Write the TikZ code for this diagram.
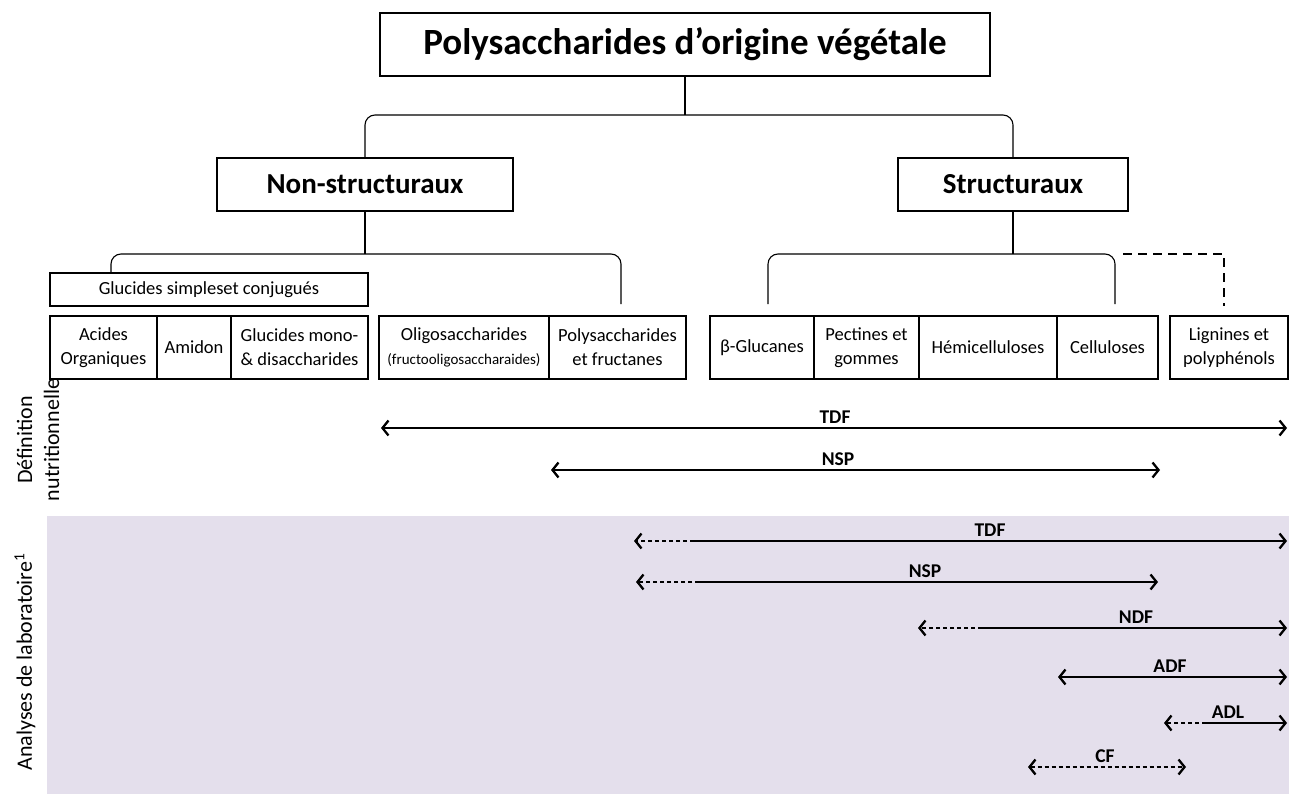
\documentclass[tikz,border=0pt]{standalone}
\usepackage{fontspec}
\setmainfont{Carlito}
\usepackage{xcolor}
\usetikzlibrary{arrows.meta, positioning}
\definecolor{labbg}{HTML}{E4DFEC}

\begin{document}
\begin{tikzpicture}[x=1pt, y=-1pt,
        >={Straight Barb[length=6pt,width=15pt,line width=2.3pt]},
        box/.style={draw, line width=1.3pt, inner sep=0pt, outer sep=0pt, align=center},
        cell/.style={box, minimum height=63pt, font=\fontsize{18.5}{24}\selectfont},
        bracket/.style={line width=1.1pt, rounded corners=10pt},
        dim/.style={line width=1.7pt},
        dimdash/.style={line width=1.4pt, dash pattern=on 4pt off 3pt},
        dimlabel/.style={font=\bfseries\fontsize{19.5}{22}\selectfont, anchor=base},
        sidelabel/.style={rotate=90, align=center, font=\fontsize{22}{27}\selectfont}]

        \useasboundingbox (0,0) rectangle (1289,794);
        \fill[labbg] (47,516) rectangle (1289,794);

        \node[box, minimum width=610pt, minimum height=63pt, font=\bfseries\fontsize{37}{44}\selectfont] (title) at (685,44.5) {Polysaccharides d’origine végétale};
        \node[box, minimum width=296pt, minimum height=53pt, font=\bfseries\fontsize{29}{34}\selectfont] (nonstruct) at (365,184.5) {Non-structuraux};
        \node[box, minimum width=230pt, minimum height=53pt, font=\bfseries\fontsize{29}{34}\selectfont] (struct) at (1013,184.5) {Structuraux};

        \node[box, minimum width=318pt, minimum height=33pt, font=\fontsize{18.5}{22}\selectfont] (glucsimp) at (209,289.5) {Glucides simpleset conjugués};

        \node[cell, minimum width=107pt] (acides) at (103.5,347.5) {Acides\\Organiques};
        \node[cell, minimum width=74pt, right=0pt of acides] (amidon) {Amidon};
        \node[cell, minimum width=137pt, right=0pt of amidon] (glucmono) {Glucides mono-\\\& disaccharides};
        \node[cell, minimum width=170pt] (oligo) at (464,347.5) {Oligosaccharides\\{\fontsize{15}{18}\selectfont(fructooligosaccharaides)}};
        \node[cell, minimum width=137pt, right=0pt of oligo] (polyfruct) {Polysaccharides\\et fructanes};
        \node[cell, minimum width=104pt] (bglucanes) at (762,347.5) {β-Glucanes};
        \node[cell, minimum width=105pt, right=0pt of bglucanes] (pectines) {Pectines et\\gommes};
        \node[cell, minimum width=138pt, right=0pt of pectines] (hemicell) {Hémicelluloses};
        \node[cell, minimum width=101pt, right=0pt of hemicell] (cellul) {Celluloses};
        \node[cell, minimum width=118pt] (lignines) at (1229,347.5) {Lignines et\\polyphénols};

        \coordinate (tbr) at (685,115);
        \draw[line width=1.1pt] (title.south) -- (tbr);
        \draw[bracket] (nonstruct.north) |- (tbr) -| (struct.north);

        \coordinate (nsbr) at (365,254);
        \coordinate (nsl) at (111,273);
        \coordinate (nsr) at (621,304);
        \draw[line width=1.1pt] (nonstruct.south) -- (nsbr);
        \draw[bracket] (nsl) |- (nsbr) -| (nsr);

        \coordinate (sbr) at (1013,254);
        \coordinate (sl) at (768,304);
        \coordinate (sr) at (1115,304);
        \draw[line width=1.1pt] (struct.south) -- (sbr);
        \draw[bracket] (sl) |- (sbr) -| (sr);

        \coordinate (dsa) at (1123,254);
        \coordinate (dsb) at (1224,306);
        \draw[line width=2.4pt, dash pattern=on 9pt off 6pt] (dsa) -| (dsb);

        \node[sidelabel] (defnut) at (38,440) {Définition\\nutritionnelle};
        \node[sidelabel] (anlab) at (25,662) {Analyses de laboratoire\textsuperscript{1}};

        \coordinate (tdfA) at (381,428);
        \coordinate (tdfB) at (1287,428);
        \draw[dim, <->] (tdfA) -- (tdfB);
        \node[dimlabel] (tdflab) at (835,423) {TDF};

        \coordinate (nspA) at (551,470);
        \coordinate (nspB) at (1160,470);
        \draw[dim, <->] (nspA) -- (nspB);
        \node[dimlabel] (nsplab) at (838,465) {NSP};

        \coordinate (ltdfA) at (634,541);
        \coordinate (ltdfM) at (694,541);
        \coordinate (ltdfB) at (1287,541);
        \draw[dimdash, ->] (ltdfM) -- (ltdfA);
        \draw[dim, ->] (ltdfM) -- (ltdfB);
        \node[dimlabel] (ltdflab) at (990,536) {TDF};

        \coordinate (lnspA) at (636,582);
        \coordinate (lnspM) at (699,582);
        \coordinate (lnspB) at (1158,582);
        \draw[dimdash, ->] (lnspM) -- (lnspA);
        \draw[dim, ->] (lnspM) -- (lnspB);
        \node[dimlabel] (lnsplab) at (925,577) {NSP};

        \coordinate (ndfA) at (918,628);
        \coordinate (ndfM) at (982,628);
        \coordinate (ndfB) at (1287,628);
        \draw[dimdash, ->] (ndfM) -- (ndfA);
        \draw[dim, ->] (ndfM) -- (ndfB);
        \node[dimlabel] (ndflab) at (1136,623) {NDF};

        \coordinate (adfA) at (1058,677);
        \coordinate (adfB) at (1287,677);
        \draw[dim, <->] (adfA) -- (adfB);
        \node[dimlabel] (adflab) at (1170,672) {ADF};

        \coordinate (adlA) at (1164,723);
        \coordinate (adlM) at (1206,723);
        \coordinate (adlB) at (1287,723);
        \draw[dimdash, ->] (adlM) -- (adlA);
        \draw[dim, ->] (adlM) -- (adlB);
        \node[dimlabel] (adllab) at (1228,718) {ADL};

        \coordinate (cfA) at (1028,767);
        \coordinate (cfB) at (1186,767);
        \draw[dimdash, <->] (cfA) -- (cfB);
        \node[dimlabel] (cflab) at (1105,762) {CF};
\end{tikzpicture}
\end{document}
